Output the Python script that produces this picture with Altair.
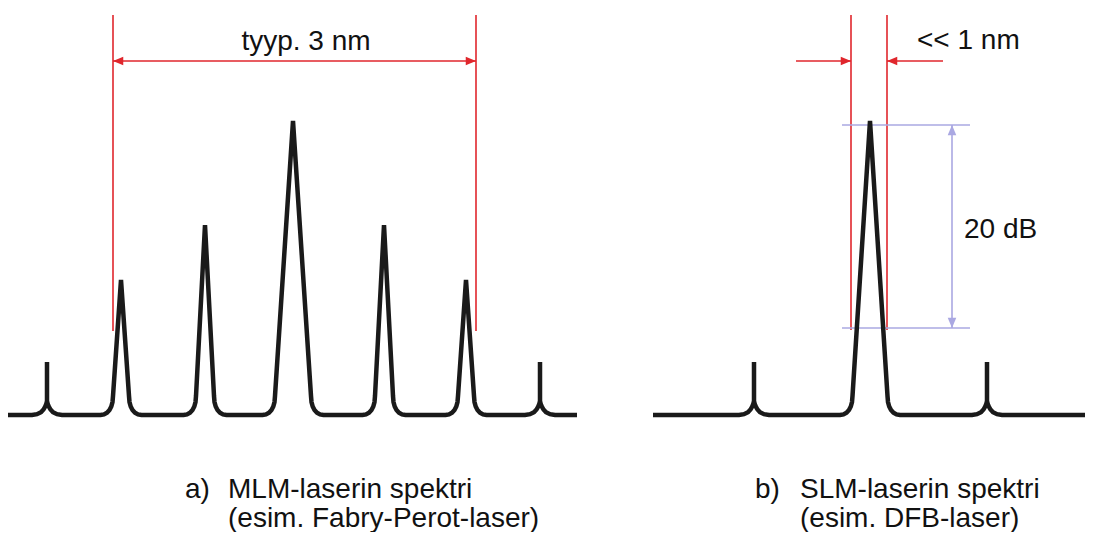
import altair as alt
import pandas as pd

# ---------------- spectrum data ----------------
# x: wavelength (arbitrary units), level: optical power above noise floor (arbitrary units)
A_RANGE = [8, 577]
A_CENTERS = [47, 121, 205, 293, 384, 466, 540]
A_HEIGHTS = [53, 135, 190, 294, 190, 135, 53]
A_HALFW = [0, 8, 9, 18, 9, 8, 0]          # 0 = narrow side mode (cusp)

B_RANGE = [653, 1088]
B_CENTERS = [754, 870, 987]
B_HEIGHTS = [53, 294, 53]
B_HALFW = [0, 17.5, 0]

# rounded foot of a main mode (offset from outer foot, level)
CORNER_DX = [0, 3.5, 6.5, 9, 10.8, 12, 12.5]
CORNER_LV = [0, 0.6, 2.3, 5, 8.5, 13, 19]
# cusp of a side mode (offset from centre, level)
CUSP_DX = [-15, -10, -6, -3.5, -1.8, -0.6, 0]
CUSP_LV = [0, 0.8, 2.8, 5.5, 8.5, 11.5, 14]


def trace(panel, rng, centers, heights, halfw):
    pts = [(rng[0], 0)]
    for c, h, w in zip(centers, heights, halfw):
        if w == 0:
            left = [(c + dx, lv) for dx, lv in zip(CUSP_DX, CUSP_LV)]
            right = [(c - dx, lv) for dx, lv in reversed(list(zip(CUSP_DX, CUSP_LV)))]
        else:
            x0 = c - w - CORNER_DX[-1]
            x1 = c + w + CORNER_DX[-1]
            left = [(x0 + dx, lv) for dx, lv in zip(CORNER_DX, CORNER_LV)]
            right = [(x1 - dx, lv) for dx, lv in reversed(list(zip(CORNER_DX, CORNER_LV)))]
        pts += left + [(c, h)] + right
    pts.append((rng[1], 0))
    return [{"panel": panel, "i": i, "x": x, "y": y} for i, (x, y) in enumerate(pts)]


spec = pd.DataFrame(trace("a", A_RANGE, A_CENTERS, A_HEIGHTS, A_HALFW)
                    + trace("b", B_RANGE, B_CENTERS, B_HEIGHTS, B_HALFW))

# ---------------- annotations ----------------
RED = "#e0262c"
PURPLE = "#aaa8e2"
segments = pd.DataFrame([
    # panel a: 3 nm span
    {"x": 113, "x2": 113, "y": 400, "y2": 84, "c": RED},
    {"x": 476, "x2": 476, "y": 400, "y2": 84, "c": RED},
    {"x": 113, "x2": 476, "y": 354, "y2": 354, "c": RED},
    # panel b: << 1 nm
    {"x": 851, "x2": 851, "y": 400, "y2": 85, "c": RED},
    {"x": 887, "x2": 887, "y": 400, "y2": 85, "c": RED},
    {"x": 796, "x2": 851, "y": 354, "y2": 354, "c": RED},
    {"x": 887, "x2": 943, "y": 354, "y2": 354, "c": RED},
    # panel b: 20 dB
    {"x": 842, "x2": 970, "y": 290, "y2": 290, "c": PURPLE},
    {"x": 842, "x2": 970, "y": 87, "y2": 87, "c": PURPLE},
    {"x": 952, "x2": 952, "y": 290, "y2": 87, "c": PURPLE},
])

heads = pd.DataFrame([
    {"x": 113, "y": 354, "a": 180, "c": RED},
    {"x": 476, "y": 354, "a": 0, "c": RED},
    {"x": 851, "y": 354, "a": 0, "c": RED},
    {"x": 887, "y": 354, "a": 180, "c": RED},
    {"x": 952, "y": 290, "a": 270, "c": PURPLE},
    {"x": 952, "y": 87, "a": 90, "c": PURPLE},
])

labels_center = pd.DataFrame([
    {"x": 306, "y": 365, "t": "tyyp. 3 nm"},
])
labels_left = pd.DataFrame([
    {"x": 917, "y": 366, "t": "<< 1 nm"},
    {"x": 964, "y": 177, "t": "20 dB"},
    {"x": 185, "y": -83, "t": "a)"},
    {"x": 228, "y": -83, "t": "MLM-laserin spektri"},
    {"x": 228, "y": -112, "t": "(esim. Fabry-Perot-laser)"},
    {"x": 755, "y": -83, "t": "b)"},
    {"x": 800, "y": -83, "t": "SLM-laserin spektri"},
    {"x": 800, "y": -112, "t": "(esim. DFB-laser)"},
])

X = alt.Scale(domain=[8, 1085], nice=False, zero=False)
Y = alt.Scale(domain=[-117, 407], nice=False, zero=False)

rules = alt.Chart(segments).mark_rule(strokeWidth=1.6).encode(
    x=alt.X("x:Q", scale=X, axis=None),
    x2="x2:Q",
    y=alt.Y("y:Q", scale=Y, axis=None),
    y2="y2:Q",
    color=alt.Color("c:N", scale=None),
)

arrowheads = alt.Chart(heads).mark_point(
    shape="M0,0L-1,-0.42L-1,0.42Z", size=420, filled=True, opacity=1, strokeWidth=0
).encode(
    x=alt.X("x:Q", scale=X, axis=None),
    y=alt.Y("y:Q", scale=Y, axis=None),
    angle=alt.Angle("a:Q", scale=None),
    color=alt.Color("c:N", scale=None),
)

line = alt.Chart(spec).mark_line(
    color="#1a1a1a", strokeWidth=4.5, strokeJoin="miter", strokeCap="butt"
).encode(
    x=alt.X("x:Q", scale=X, axis=None),
    y=alt.Y("y:Q", scale=Y, axis=None),
    detail="panel:N",
    order="i:Q",
)

txt_c = alt.Chart(labels_center).mark_text(
    align="center", baseline="alphabetic", font="Liberation Sans", fontSize=28, color="#111111"
).encode(
    x=alt.X("x:Q", scale=X, axis=None),
    y=alt.Y("y:Q", scale=Y, axis=None),
    text="t:N",
)

txt_l = alt.Chart(labels_left).mark_text(
    align="left", baseline="alphabetic", font="Liberation Sans", fontSize=28, color="#111111"
).encode(
    x=alt.X("x:Q", scale=X, axis=None),
    y=alt.Y("y:Q", scale=Y, axis=None),
    text="t:N",
)

chart = alt.layer(rules, arrowheads, line, txt_c, txt_l).properties(
    width=1077, height=524, autosize=alt.AutoSizeParams(type="none"), padding=0,
    background="white",
).configure_view(stroke=None)

chart.save("out.html", embed_options={"renderer": "svg", "actions": False})
